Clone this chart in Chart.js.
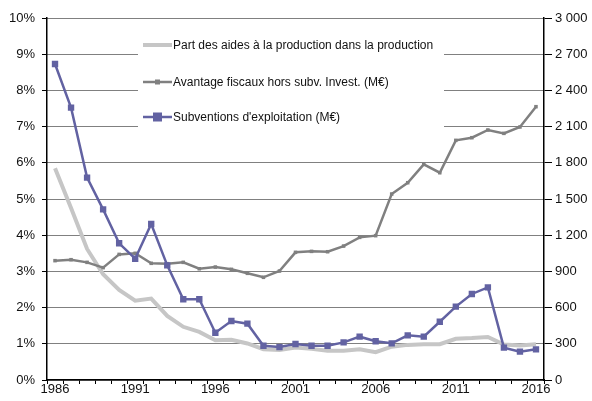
<!DOCTYPE html>
<html>
<head>
<meta charset="utf-8">
<script src="https://cdn.jsdelivr.net/npm/chart.js@4/dist/chart.umd.min.js"></script>
<style>
  body { margin: 0; background: #fff; }
  #wrap { width: 592px; height: 401px; }
</style>
</head>
<body>
<div id="wrap"><canvas id="chart" width="592" height="401"></canvas></div>
<script>
// years on the x axis
const years = [];
for (let y = 1986; y <= 2016; y++) years.push(String(y));

// share of aid in production (%), left axis
const partAides = [5.85, 4.75, 3.62, 2.92, 2.49, 2.19, 2.25, 1.77, 1.47, 1.33, 1.10,
  1.11, 1.01, 0.85, 0.83, 0.90, 0.86, 0.81, 0.81, 0.85, 0.77, 0.92, 0.97, 0.99, 0.99,
  1.14, 1.16, 1.19, 0.98, 0.95, 0.99];

// tax advantages excl. investment subsidies (M€), right axis
const avantageFiscaux = [989, 997, 975, 931, 1041, 1050, 967, 964, 975, 922, 936,
  917, 884, 851, 903, 1058, 1066, 1063, 1110, 1182, 1196, 1541, 1635, 1787, 1718,
  1986, 2008, 2072, 2044, 2097, 2265];

// operating subsidies (M€), right axis
const subventions = [2619, 2257, 1677, 1414, 1133, 1005, 1293, 950, 669, 669, 392,
  489, 467, 284, 273, 298, 284, 284, 312, 359, 321, 304, 370, 359, 483,
  608, 713, 768, 268, 235, 254];

const leftTicks = [0, 1, 2, 3, 4, 5, 6, 7, 8, 9, 10];
const rightTicks = [0, 300, 600, 900, 1200, 1500, 1800, 2100, 2400, 2700, 3000];

const FONT = "'Liberation Sans', Arial, Helvetica, sans-serif";
const LIGHT = '#c6c6c6';
const GREY = '#808080';
const BLUE = '#6262a2';

function fmtThousands(v) {
  return String(v).replace(/\B(?=(\d{3})+(?!\d))/g, ' ');
}

// white legend box drawn over the grid, inside the plot area
const legendBox = {
  id: 'legendBox',
  beforeDatasetsDraw(chart) {
    const c = chart.ctx;
    c.save();
    c.fillStyle = '#fff';
    c.fillRect(138, 30, 306, 106);
    c.restore();
  },
  afterDatasetsDraw(chart) {
    const c = chart.ctx;
    const ds = chart.data.datasets;
    const rows = [45, 82, 117];
    c.save();
    ds.forEach((d, i) => {
      const y = rows[i];
      c.strokeStyle = d.borderColor;
      c.lineWidth = d.borderWidth;
      c.beginPath();
      c.moveTo(143, y);
      c.lineTo(172, y);
      c.stroke();
      if (d.pointRadius > 0) {
        const r = d.pointRadius;
        c.fillStyle = d.pointBackgroundColor;
        c.fillRect(157.5 - r, y - r, r * 2, r * 2);
      }
      c.fillStyle = '#111';
      c.font = '12px ' + FONT;
      c.textBaseline = 'middle';
      c.textAlign = 'left';
      c.fillText(d.label, 173, y + 0.5);
    });
    c.restore();
  }
};

new Chart(document.getElementById('chart'), {
  type: 'line',
  data: {
    labels: years,
    datasets: [
      {
        label: 'Part des aides à la production dans la production',
        data: partAides,
        yAxisID: 'y1',
        borderColor: LIGHT,
        borderWidth: 4,
        pointRadius: 0,
        order: 3
      },
      {
        label: 'Avantage fiscaux hors subv. Invest. (M€)',
        data: avantageFiscaux,
        yAxisID: 'y2',
        borderColor: GREY,
        borderWidth: 2.5,
        pointStyle: 'rect',
        pointRadius: 2.5,
        pointBackgroundColor: GREY,
        pointBorderWidth: 0,
        order: 2
      },
      {
        label: "Subventions d'exploitation (M€)",
        data: subventions,
        yAxisID: 'y2',
        borderColor: BLUE,
        borderWidth: 2.5,
        pointStyle: 'rect',
        pointRadius: 4.5,
        pointBackgroundColor: BLUE,
        pointBorderWidth: 0,
        order: 1
      }
    ]
  },
  options: {
    responsive: false,
    animation: false,
    layout: { padding: { top: 18, left: 0, right: 0, bottom: 0 } },
    plugins: {
      legend: { display: false },
      tooltip: { enabled: false }
    },
    scales: {
      x: {
        offset: true,
        grid: {
          offset: true,
          drawOnChartArea: false,
          tickLength: 4,
          color: '#000'
        },
        border: { color: '#000', width: 1.5 },
        ticks: {
          autoSkip: false,
          maxRotation: 0,
          padding: -2,
          color: '#111',
          font: { family: FONT, size: 13 },
          callback: function(v, i) { return i % 5 === 0 ? years[i] : ''; }
        },
        afterFit(s) { s.height = 21; }
      },
      y1: {
        position: 'left',
        min: 0,
        max: 10,
        afterBuildTicks(s) { s.ticks = leftTicks.map(v => ({ value: v })); },
        grid: {
          color: '#000',
          tickColor: '#000',
          tickLength: 5
        },
        border: { color: '#000', width: 1.5, dash: [1, 1] },
        ticks: {
          padding: 7,
          color: '#111',
          font: { family: FONT, size: 13 },
          callback: v => v + '%'
        },
        afterFit(s) { s.width = 47; }
      },
      y2: {
        position: 'right',
        min: 0,
        max: 3000,
        afterBuildTicks(s) { s.ticks = rightTicks.map(v => ({ value: v })); },
        grid: {
          drawOnChartArea: false,
          tickColor: '#000',
          tickLength: 8
        },
        border: { color: '#000', width: 1.5 },
        ticks: {
          padding: 3,
          color: '#111',
          font: { family: FONT, size: 13 },
          callback: v => fmtThousands(v)
        },
        afterFit(s) { s.width = 48; }
      }
    }
  },
  plugins: [legendBox]
});
</script>
</body>
</html>
